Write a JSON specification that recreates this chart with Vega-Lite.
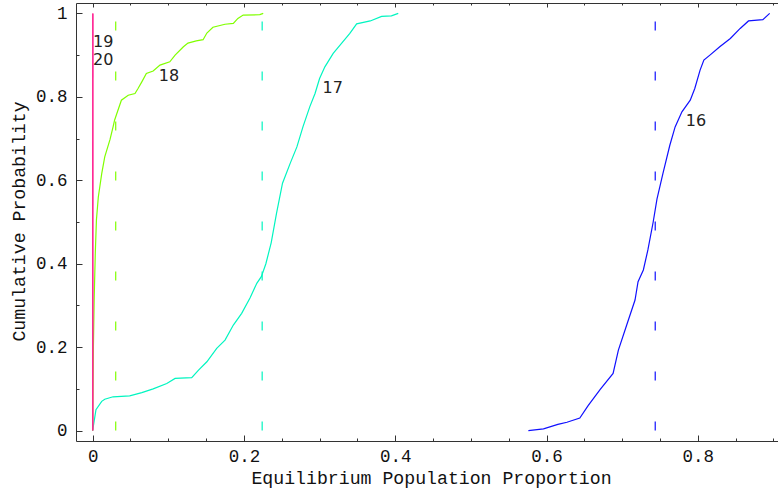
{
  "$schema": "https://vega.github.io/schema/vega-lite/v6.json",
  "width": 702,
  "height": 438,
  "autosize": "none",
  "padding": {"left": 76, "top": 3, "right": 0, "bottom": 47},
  "background": "white",
  "config": {"view": {"stroke": null}, "axis": {"grid": false}},
  "datasets": {
    "curves": [
      {"series": "16", "x": 0.576, "y": 0}, {"series": "16", "x": 0.596, "y": 0.004}, {"series": "16", "x": 0.615, "y": 0.015}, {"series": "16", "x": 0.627, "y": 0.02}, {"series": "16", "x": 0.644, "y": 0.03}, {"series": "16", "x": 0.655, "y": 0.06}, {"series": "16", "x": 0.671, "y": 0.099}, {"series": "16", "x": 0.688, "y": 0.137}, {"series": "16", "x": 0.695, "y": 0.193}, {"series": "16", "x": 0.706, "y": 0.253}, {"series": "16", "x": 0.717, "y": 0.313}, {"series": "16", "x": 0.721, "y": 0.357}, {"series": "16", "x": 0.728, "y": 0.385}, {"series": "16", "x": 0.734, "y": 0.433}, {"series": "16", "x": 0.741, "y": 0.5}, {"series": "16", "x": 0.746, "y": 0.555}, {"series": "16", "x": 0.754, "y": 0.617}, {"series": "16", "x": 0.763, "y": 0.684}, {"series": "16", "x": 0.77, "y": 0.728}, {"series": "16", "x": 0.779, "y": 0.764}, {"series": "16", "x": 0.79, "y": 0.792}, {"series": "16", "x": 0.796, "y": 0.82}, {"series": "16", "x": 0.803, "y": 0.864}, {"series": "16", "x": 0.808, "y": 0.888}, {"series": "16", "x": 0.816, "y": 0.9}, {"series": "16", "x": 0.829, "y": 0.92}, {"series": "16", "x": 0.843, "y": 0.94}, {"series": "16", "x": 0.856, "y": 0.964}, {"series": "16", "x": 0.867, "y": 0.982}, {"series": "16", "x": 0.886, "y": 0.985}, {"series": "16", "x": 0.895, "y": 1.0},
      {"series": "17", "x": 0, "y": 0}, {"series": "17", "x": 0.0044, "y": 0.05}, {"series": "17", "x": 0.012, "y": 0.07}, {"series": "17", "x": 0.016, "y": 0.075}, {"series": "17", "x": 0.027, "y": 0.081}, {"series": "17", "x": 0.049, "y": 0.083}, {"series": "17", "x": 0.065, "y": 0.091}, {"series": "17", "x": 0.08, "y": 0.1}, {"series": "17", "x": 0.098, "y": 0.113}, {"series": "17", "x": 0.109, "y": 0.125}, {"series": "17", "x": 0.131, "y": 0.127}, {"series": "17", "x": 0.14, "y": 0.145}, {"series": "17", "x": 0.151, "y": 0.165}, {"series": "17", "x": 0.164, "y": 0.197}, {"series": "17", "x": 0.175, "y": 0.217}, {"series": "17", "x": 0.186, "y": 0.253}, {"series": "17", "x": 0.197, "y": 0.281}, {"series": "17", "x": 0.208, "y": 0.318}, {"series": "17", "x": 0.217, "y": 0.353}, {"series": "17", "x": 0.223, "y": 0.369}, {"series": "17", "x": 0.229, "y": 0.4}, {"series": "17", "x": 0.236, "y": 0.45}, {"series": "17", "x": 0.243, "y": 0.52}, {"series": "17", "x": 0.251, "y": 0.593}, {"series": "17", "x": 0.261, "y": 0.64}, {"series": "17", "x": 0.27, "y": 0.68}, {"series": "17", "x": 0.278, "y": 0.728}, {"series": "17", "x": 0.287, "y": 0.776}, {"series": "17", "x": 0.294, "y": 0.808}, {"series": "17", "x": 0.3, "y": 0.844}, {"series": "17", "x": 0.307, "y": 0.872}, {"series": "17", "x": 0.318, "y": 0.904}, {"series": "17", "x": 0.329, "y": 0.928}, {"series": "17", "x": 0.34, "y": 0.952}, {"series": "17", "x": 0.349, "y": 0.975}, {"series": "17", "x": 0.367, "y": 0.982}, {"series": "17", "x": 0.382, "y": 0.993}, {"series": "17", "x": 0.395, "y": 0.994}, {"series": "17", "x": 0.404, "y": 1.0},
      {"series": "18", "x": 0, "y": 0}, {"series": "18", "x": 0.0005, "y": 0.1}, {"series": "18", "x": 0.001, "y": 0.2}, {"series": "18", "x": 0.002, "y": 0.313}, {"series": "18", "x": 0.0035, "y": 0.425}, {"series": "18", "x": 0.005, "y": 0.505}, {"series": "18", "x": 0.0075, "y": 0.56}, {"series": "18", "x": 0.012, "y": 0.616}, {"series": "18", "x": 0.016, "y": 0.656}, {"series": "18", "x": 0.023, "y": 0.698}, {"series": "18", "x": 0.027, "y": 0.728}, {"series": "18", "x": 0.029, "y": 0.744}, {"series": "18", "x": 0.032, "y": 0.76}, {"series": "18", "x": 0.038, "y": 0.792}, {"series": "18", "x": 0.047, "y": 0.804}, {"series": "18", "x": 0.056, "y": 0.808}, {"series": "18", "x": 0.06, "y": 0.82}, {"series": "18", "x": 0.065, "y": 0.836}, {"series": "18", "x": 0.071, "y": 0.856}, {"series": "18", "x": 0.08, "y": 0.862}, {"series": "18", "x": 0.089, "y": 0.876}, {"series": "18", "x": 0.102, "y": 0.884}, {"series": "18", "x": 0.109, "y": 0.9}, {"series": "18", "x": 0.12, "y": 0.92}, {"series": "18", "x": 0.126, "y": 0.929}, {"series": "18", "x": 0.137, "y": 0.934}, {"series": "18", "x": 0.146, "y": 0.937}, {"series": "18", "x": 0.151, "y": 0.953}, {"series": "18", "x": 0.159, "y": 0.967}, {"series": "18", "x": 0.175, "y": 0.974}, {"series": "18", "x": 0.186, "y": 0.976}, {"series": "18", "x": 0.192, "y": 0.988}, {"series": "18", "x": 0.199, "y": 0.996}, {"series": "18", "x": 0.221, "y": 0.997}, {"series": "18", "x": 0.2255, "y": 1.0},
      {"series": "19", "x": 0, "y": 0}, {"series": "19", "x": 0.0001, "y": 1.0},
      {"series": "20", "x": 0.0003, "y": 0}, {"series": "20", "x": 0.0004, "y": 1.0}
    ],
    "means": [
      {"series": "16", "x": 0.7437},
      {"series": "17", "x": 0.2241},
      {"series": "18", "x": 0.0305}
    ],
    "labels": [
      {"label": "19", "x": 0.0005, "y": 0.92},
      {"label": "20", "x": 0.0005, "y": 0.877},
      {"label": "18", "x": 0.0875, "y": 0.838},
      {"label": "17", "x": 0.304, "y": 0.81},
      {"label": "16", "x": 0.784, "y": 0.729}
    ]
  },
  "resolve": {"axis": {"x": "independent"}},
  "layer": [
    {
      "data": {"name": "curves"},
      "mark": {"type": "line", "strokeWidth": 1.2, "interpolate": "linear"},
      "encoding": {
        "x": {
          "field": "x", "type": "quantitative",
          "scale": {"domain": [-0.022, 0.906], "nice": false, "zero": false},
          "axis": {
            "orient": "bottom",
            "values": [0, 0.05, 0.1, 0.15, 0.2, 0.25, 0.3, 0.35, 0.4, 0.45, 0.5, 0.55, 0.6, 0.65, 0.7, 0.75, 0.8, 0.85, 0.9],
            "format": ".2~f",
            "labelExpr": "abs(datum.value*5-round(datum.value*5))<0.001 ? datum.label : ''",
            "tickSize": {"condition": {"test": "abs(datum.value*5-round(datum.value*5))<0.001", "value": -6}, "value": -3},
            "labelPadding": 12,
            "labelFont": "Liberation Mono", "labelFontSize": 17.5, "labelColor": "#111",
            "labelFlush": false, "labelOverlap": false, "labelBound": false,
            "title": "Equilibrium Population Proportion",
            "titleFont": "Liberation Mono", "titleFontSize": 18.2, "titleFontWeight": "normal", "titleColor": "#111",
            "titleX": 355, "titleY": 42, "titleBaseline": "alphabetic", "titleAlign": "center", "titleAnchor": null,
            "domainColor": "#333", "tickColor": "#333"
          }
        },
        "y": {
          "field": "y", "type": "quantitative",
          "scale": {"domain": [-0.025, 1.025], "nice": false, "zero": false},
          "axis": {
            "orient": "left",
            "values": [0, 0.05, 0.1, 0.15, 0.2, 0.25, 0.3, 0.35, 0.4, 0.45, 0.5, 0.55, 0.6, 0.65, 0.7, 0.75, 0.8, 0.85, 0.9, 0.95, 1],
            "format": ".2~f",
            "labelExpr": "abs(datum.value*5-round(datum.value*5))<0.001 ? datum.label : ''",
            "tickSize": {"condition": {"test": "abs(datum.value*5-round(datum.value*5))<0.001", "value": -6}, "value": -3},
            "labelPadding": 15,
            "labelFont": "Liberation Mono", "labelFontSize": 17.5, "labelColor": "#111",
            "labelFlush": false, "labelOverlap": false, "labelBound": false,
            "title": "Cumulative Probability",
            "titleFont": "Liberation Mono", "titleFontSize": 18.2, "titleFontWeight": "normal", "titleColor": "#111",
            "titleX": -52, "titleY": 218, "titleAngle": -90, "titleBaseline": "alphabetic", "titleAlign": "center",
            "domainColor": "#333", "tickColor": "#333"
          }
        },
        "color": {
          "field": "series", "type": "nominal",
          "scale": {"domain": ["16", "17", "18", "19", "20"], "range": ["#1010ff", "#00f5c0", "#80ff00", "#ff1a80", "#ff2a9a"]},
          "legend": null
        },
        "order": {"field": "y", "type": "quantitative"}
      }
    },
    {
      "data": {"name": "means"},
      "mark": {"type": "rule", "strokeWidth": 1.2, "strokeDash": [9, 41]},
      "encoding": {
        "x": {
          "field": "x", "type": "quantitative",
          "axis": {
            "orient": "top",
            "values": [0, 0.05, 0.1, 0.15, 0.2, 0.25, 0.3, 0.35, 0.4, 0.45, 0.5, 0.55, 0.6, 0.65, 0.7, 0.75, 0.8, 0.85, 0.9],
            "labels": false,
            "title": null,
            "tickSize": {"condition": {"test": "abs(datum.value*5-round(datum.value*5))<0.001", "value": -4}, "value": -2},
            "domainColor": "#333", "tickColor": "#333"
          }
        },
        "y": {"datum": 0, "type": "quantitative"},
        "y2": {"datum": 1},
        "color": {"field": "series", "type": "nominal"}
      }
    },
    {
      "data": {"name": "labels"},
      "mark": {"type": "text", "align": "left", "baseline": "alphabetic", "font": "DejaVu Sans", "fontSize": 16, "color": "#222"},
      "encoding": {
        "x": {"field": "x", "type": "quantitative", "axis": null},
        "y": {"field": "y", "type": "quantitative"},
        "text": {"field": "label"}
      }
    }
  ]
}
